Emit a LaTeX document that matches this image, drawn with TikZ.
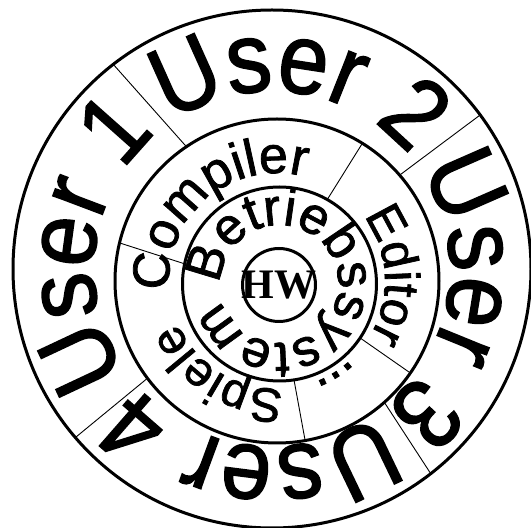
\documentclass[tikz,border=0pt]{standalone}
\usepackage{fontspec}
\setmainfont{Liberation Sans}
\newfontfamily\hwfont{Liberation Serif}
\newfontfamily\ringfont[FakeBold=1.5]{Liberation Sans}
\newfontfamily\userfont[FakeStretch=0.9,FakeBold=1.5]{Liberation Sans}
\usetikzlibrary{calc,decorations.text}

\begin{document}
\begin{tikzpicture}[x=1pt,y=1pt,
    ring/.style={line width=3pt},
    divider/.style={line width=0.9pt},
    ringtext/.style={decorate,decoration={text along path,text align=center,text={#1}}}]
  \useasboundingbox (0,0) rectangle (531,528);
  \coordinate (outc) at (272,259);
  \coordinate (midc) at (277,247);
  \coordinate (innc) at (279.5,244);
  \coordinate (hwc) at (279,243);
  \draw[ring] (outc) circle[radius=259];
  \draw[ring] (midc) circle[radius=162];
  \draw[ring] (innc) circle[radius=97];
  \draw[ring] (hwc) circle[radius=36.5];
  \node[font=\hwfont\bfseries\fontsize{42}{42}\selectfont] (hw) at (hwc) {HW};
  \foreach \a/\b in {124/127.8,40.8/36.5,-48.5/-52.2,216.9/220.6}
    \draw[divider] ($(midc)+(\a:162)$) -- ($(outc)+(\b:259)$);
  \foreach \a/\b in {60.5/58.2,-33.8/-34.6,-81.4/-80,168/166.4}
    \draw[divider] ($(innc)+(\a:97)$) -- ($(midc)+(\b:162)$);
  \path[ringtext={|\userfont\fontsize{100}{100}\selectfont|User 1}] ($(outc)+(233:178)$) arc[start angle=233,end angle=113,radius=178];
  \path[ringtext={|\userfont\fontsize{100}{100}\selectfont|User 2}] ($(outc)+(142:178)$) arc[start angle=142,end angle=22,radius=178];
  \path[ringtext={|\userfont\fontsize{100}{100}\selectfont|User 3}] ($(outc)+(51.5:178)$) arc[start angle=51.5,end angle=-68.5,radius=178];
  \path[ringtext={|\userfont\fontsize{100}{100}\selectfont|User 4}] ($(outc)+(-36.5:178)$) arc[start angle=-36.5,end angle=-156.5,radius=178];
  \path[ringtext={|\ringfont\fontsize{52}{52}\selectfont|Compiler}] ($(midc)+(190:108)$) arc[start angle=190,end angle=70,radius=108];
  \path[ringtext={|\ringfont\fontsize{49}{49}\selectfont|Editor}] ($(midc)+(63:108)$) arc[start angle=63,end angle=-57,radius=108];
  \path[ringtext={|\ringfont\fontsize{52}{52}\selectfont|...}] ($(midc)+(2:108)$) arc[start angle=2,end angle=-118,radius=108];
  \path[ringtext={|\ringfont\fontsize{48}{48}\selectfont|Spiele}] ($(midc)+(298:108)$) arc[start angle=298,end angle=178,radius=108];
  \path[decorate,decoration={text along path,text align=left,text={|\ringfont\fontsize{52}{52}\selectfont|Betriebssystem}}] ($(innc)+(180:59)$) arc[start angle=180,end angle=-180,radius=59];
\end{tikzpicture}
\end{document}
